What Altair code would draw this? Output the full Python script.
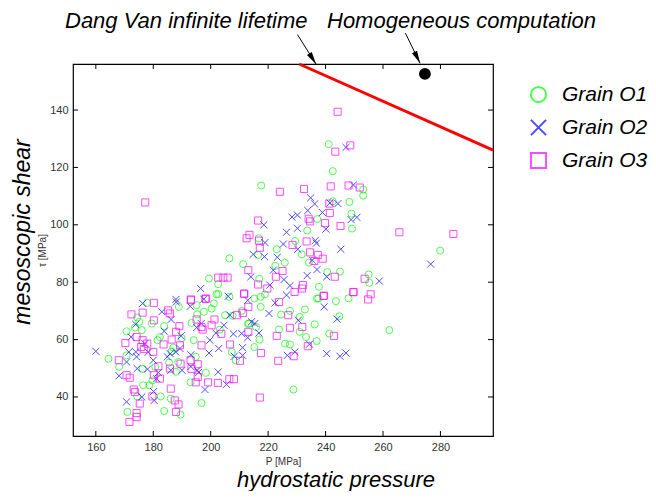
import math
import altair as alt
import pandas as pd

# ---------------- data ----------------
P_O1 = [202, 206.5, 215.2, 217.4, 218.9, 177.9, 188.9, 195.1, 217.4, 237.5, 243.6, 248, 232.8, 231, 224.5,
        227.6, 223.8, 225.9, 227.6, 231, 233.2, 236.2, 236.9, 241.3, 244.8, 228.8, 262.2, 215.2, 217, 215.8,
        213.3, 210.8, 207.6, 205, 203.2, 207.3, 208.7, 201.1, 198.3, 196.8, 194.8, 194.1, 193.3, 195.3, 193,
        197.6, 200.3, 164.4, 168.1, 170.7, 170.7, 171, 173.6, 174.4, 175.1, 174.4, 176, 176.3, 176.5, 178.6,
        179.7, 179.5, 180.7, 181.5, 182.3, 182.6, 183.8, 183.8, 186.4, 187, 187.9, 186.1, 189.5, 188.7,
        242.5, 217.6, 242.5, 248.3, 253.1, 253.1, 249, 249.2, 237.1, 233.6, 229.4, 231.7, 223, 216.7, 216.5,
        206.5, 211.3, 225.8, 222.5, 234.2, 240.6, 245, 255, 255.2, 279.9, 199.4, 202.6, 202.6, 216.9, 237.7,
        237, 241.1, 213, 189.9, 185.5]
T_O1 = [75.8, 74.9, 74.3, 74.9, 75.8, 72.8, 71.4, 72, 71.4, 74.3, 73.4, 74.4, 70.5, 67.9, 68.7,
        70, 63.5, 58.6, 58.3, 62.7, 60.9, 65.3, 59.5, 62.1, 68.1, 42.6, 63.3, 57.4, 60, 64.4,
        65.6, 70, 68.3, 68.5, 63.5, 55.7, 52.8, 72.6, 48.4, 37.9, 54, 59.8, 65.8, 68.8, 45.1,
        69.7, 70.8, 53.3, 50.5, 62.9, 54.5, 34.8, 64.2, 67.7, 66.2, 40.2, 63.3, 49.8, 44.1, 44.1,
        45.8, 65.6, 50.5, 59.8, 60.9, 40.2, 64.7, 35.1, 55.9, 57.2, 48.8, 39.4, 33.8, 52.2,
        118.7, 113.7, 108.2, 108, 112.3, 110.2, 103.9, 98.7, 102, 98, 94.4, 89.7, 91.5, 95.3, 89.5,
        88.3, 86.3, 86.8, 85.7, 86.8, 83.5, 83.7, 82.7, 79.8, 91, 81.3, 79.3, 75.9, 81.2, 78.4,
        74.3, 128.1, 65.5, 60.5, 52.0]

P_O2 = [160, 168.1, 170.7, 170.7, 171.5, 172.3, 173.9, 174.2, 174.4, 173.9, 176, 176.3, 177.1, 178, 178.2,
        180, 180.3, 180.1, 181.2, 181.8, 183, 183.8, 184.9, 185.9, 186.1, 186.2, 188, 187.8, 189.3, 189.7,
        190, 193.1, 193.1, 192.9, 195.3, 195.8, 195.1, 196.7, 198, 199.4, 199.7, 202.6, 202.8, 201.8, 204.6,
        205.5, 206.7, 206.1, 207.9, 208.2, 211.1, 211.1, 210.8, 212.9, 214.2, 212.9, 215.4, 216.8, 220.3,
        222.4, 226.4, 226.7, 229.3, 230.5, 234.4, 239.5, 240.4, 244, 245, 247.1,
        249.7, 234.8, 236.2, 244.3, 241.5, 238.9, 233.8, 230.2, 228.3, 218.5, 230.2, 226.4, 236.4, 236.8,
        240.1, 248.9, 250.9, 218.9, 225.3, 230.3, 214.8, 218.7, 223.2, 245.3, 235.4, 221.8, 225.5, 227.6,
        220.6, 233.6, 237, 240.4, 258.7, 276.6, 214, 196.5, 187.9, 197.6, 247.1]
T_O2 = [55.9, 47.4, 52.2, 38.3, 55.7, 60.9, 65.3, 54, 49.9, 55.7, 40, 72.6, 58.6, 49.7, 55.6,
        52.8, 38.8, 41.9, 46.4, 48.5, 69.7, 62.9, 54, 55.1, 49.3, 67, 73.1, 55.7, 56.9, 61.3,
        49.3, 54.7, 50.6, 71.6, 49.3, 48.6, 64.2, 65.6, 42.6, 55.3, 59.8, 48.7, 56.9, 62.3, 65,
        44.4, 68.5, 75.1, 62, 54.2, 57.2, 54.5, 62.1, 60.7, 66.2, 73.7, 65.6, 62.3, 69.1,
        72.8, 75.5, 54.5, 55.7, 66.7, 58.4, 71.4, 55.1, 67.1, 54.2, 55.3,
        113.9, 109.4, 107.3, 107.4, 107.6, 104.3, 105, 103.4, 102.7, 100, 98.8, 97.4, 94.5, 93.6,
        98.5, 101.8, 102.6, 93.8, 93.3, 91.5, 89.7, 88.9, 88.7, 91.5, 87.7, 84.2, 80.9, 78.8,
        79, 82.3, 84.4, 81.9, 80.4, 86.3, 81.9, 77.8, 74, 74.1, 127]

P_O3 = [168, 170.3, 170.7, 171.8, 172.4, 173.2, 173.6, 174.2, 174.2, 171.7, 174.2, 176.3, 175.8, 176.3, 176.7,
        177.9, 175.3, 180, 180.2, 180.2, 179.7, 180.2, 181.8, 182.3, 183.6, 185.2, 185.8, 186.1, 185.8, 186.4,
        187.5, 187.9, 188.8, 187.9, 189.1, 189.3, 189.5, 193.1, 193, 193.3, 195.1, 195.5, 195.5, 194.8, 196.8,
        197.2, 196.8, 198.3, 199.1, 200.3, 201.3, 202.5, 203.7, 206.7, 206.5, 208.1, 209.2, 210.2, 211.2,
        211.7, 213.1, 213.1, 217.5, 217.1, 223, 223.5, 223.8, 227, 227.6, 228.9, 231.9, 233.8, 239.4, 242.9,
        249.7, 254.8, 255.7,
        177.2, 224.1, 232.5, 241.8, 248, 251.9, 241.3, 241.5, 234.1, 234.6, 239.8, 245.2, 216.5, 213.5, 212.5,
        216.8, 217.1, 233.4, 228.5, 234.6, 237.3, 236.1, 239, 265.7, 284.5, 213.1, 216.5, 225, 222.7, 232.1,
        231.8, 229.2, 243.2, 253.6, 249.7, 239.3, 202.6, 204.4, 205.9, 193.1, 198.2, 219.7, 211.6,
        244.2, 243.4, 248.6]
T_O3 = [52.8, 58.8, 47.6, 46.7, 68.8, 42.6, 41.7, 34.4, 33, 31.3, 60.9, 59.8, 57.4, 69.4, 56.7,
        58.6, 37.7, 55.7, 72.8, 66.7, 40.2, 47.6, 50.7, 46.4, 58.3, 70.2, 69.1, 42.9, 49.9, 60,
        38.8, 62.7, 37.4, 34.8, 64.7, 58, 51.6, 73.7, 52.8, 49.8, 67, 51.4, 47, 45.1, 64.4,
        63.5, 58, 74.3, 45.1, 65, 67, 44.9, 62, 58.3, 46.2, 46.2, 68.5, 52.6, 69.3,
        76, 71.4, 62.7, 55.3, 39.8, 61.3, 52.6, 73.1, 68.5, 64.1, 54.2, 64.4, 57.7, 75.3, 61.3,
        76.6, 74, 75.8,
        107.8, 111.5, 112.5, 113.4, 113.7, 113, 107.4, 104.1, 102.1, 101.2, 100.6, 99.6, 101.5, 96.5, 95.3,
        94.5, 92, 94.2, 93, 90.4, 89.5, 87.4, 88.2, 97.4, 96.8, 84.2, 79.2, 83.9, 81.9, 79,
        77.8, 76.6, 81.9, 81.2, 76.5, 75.2, 81.6, 81.6, 81.6, 74, 74.2, 77.8, 76,
        139.4, 125.5, 127.7]

GRAINS = ["Grain O1", "Grain O2", "Grain O3"]
GRAIN_COLORS = ["#00ff00", "#0000ff", "#ff00ff"]

# Dang Van infinite-lifetime line (end points on the frame)
DV_P = [230.8, 298.3]
DV_TAU = [156.05, 126.0]
# homogeneous computation point
HOMO_P = [274.6]
HOMO_TAU = [152.6]

X_TICKS = [160, 180, 200, 220, 240, 260, 280]
Y_TICKS = [40, 60, 80, 100, 120, 140]
X_DOMAIN = [152.05, 298.3]
Y_DOMAIN = [26.4, 156.05]

# annotation arrows: start (near text) -> tip (on the frame)
ARROW_P0 = [230.2, 267.8]
ARROW_T0 = [166.3, 166.8]
ARROW_P1 = [236.7, 272.9]
ARROW_T1 = [156.0, 156.3]

W, H = 420, 372

# ---------------- build tables ----------------
rows = []
for g, Ps, Ts in zip(GRAINS, [P_O1, P_O2, P_O3], [T_O1, T_O2, T_O3]):
    for p, t in zip(Ps, Ts):
        rows.append({"P": p, "tau": t, "grain": g})
pts = pd.DataFrame(rows)

xs = alt.Scale(domain=X_DOMAIN, nice=False, zero=False)
ys = alt.Scale(domain=Y_DOMAIN, nice=False, zero=False)

X_CROSS = "M-1,-1L1,1M-1,1L1,-1"

legend = alt.Legend(title=None, orient="none", legendX=455, legendY=20,
                    symbolSize=230, symbolStrokeWidth=2, labelFontSize=21,
                    labelFontStyle="italic", labelFont="Liberation Sans",
                    labelColor="black", labelOffset=13, rowPadding=8, padding=0)

scatter = alt.Chart(pts).mark_point(filled=False, size=50, strokeWidth=1).encode(
    x=alt.X("P:Q", scale=xs, axis=alt.Axis(values=X_TICKS, title="P  [MPa]", grid=False,
                                           ticks=False, domain=False, labelPadding=5,
                                           titlePadding=4)),
    y=alt.Y("tau:Q", scale=ys, axis=alt.Axis(values=Y_TICKS, title="τ  [MPa]", grid=False,
                                             ticks=False, domain=False, labelPadding=5,
                                             titlePadding=2)),
    color=alt.Color("grain:N", scale=alt.Scale(domain=GRAINS, range=GRAIN_COLORS), legend=legend),
    shape=alt.Shape("grain:N", scale=alt.Scale(domain=GRAINS, range=["circle", X_CROSS, "square"]),
                    legend=legend),
)

dv = pd.DataFrame({"P": DV_P, "tau": DV_TAU})
dv_line = alt.Chart(dv).mark_line(color="#ff0000", strokeWidth=3).encode(
    x=alt.X("P:Q", scale=xs), y=alt.Y("tau:Q", scale=ys))

homo = pd.DataFrame({"P": HOMO_P, "tau": HOMO_TAU})
homo_pt = alt.Chart(homo).mark_point(filled=True, color="black", size=140, opacity=1).encode(
    x=alt.X("P:Q", scale=xs), y=alt.Y("tau:Q", scale=ys))

# tick marks pointing inward on all four sides
xt = pd.DataFrame({"v": X_TICKS})
yt = pd.DataFrame({"v": Y_TICKS})
tick_style = dict(color="black", strokeWidth=1)
xt_bot = alt.Chart(xt).mark_rule(**tick_style).encode(
    x=alt.X("v:Q", scale=xs), y=alt.value(H), y2=alt.value(H - 5))
xt_top = alt.Chart(xt).mark_rule(**tick_style).encode(
    x=alt.X("v:Q", scale=xs), y=alt.value(0), y2=alt.value(5))
yt_left = alt.Chart(yt).mark_rule(**tick_style).encode(
    y=alt.Y("v:Q", scale=ys), x=alt.value(0), x2=alt.value(5))
yt_right = alt.Chart(yt).mark_rule(**tick_style).encode(
    y=alt.Y("v:Q", scale=ys), x=alt.value(W), x2=alt.value(W - 5))

# annotation arrows
px_per_P = W / (X_DOMAIN[1] - X_DOMAIN[0])
px_per_T = H / (Y_DOMAIN[1] - Y_DOMAIN[0])
arr = pd.DataFrame({"P0": ARROW_P0, "T0": ARROW_T0, "P1": ARROW_P1, "T1": ARROW_T1})
arr["ang"] = [
    (math.degrees(math.atan2((p1 - p0) * px_per_P, (t1 - t0) * px_per_T)) + 360) % 360
    for p0, t0, p1, t1 in zip(ARROW_P0, ARROW_T0, ARROW_P1, ARROW_T1)
]
arrow_lines = alt.Chart(arr).mark_rule(color="black", strokeWidth=1, clip=False).encode(
    x=alt.X("P0:Q", scale=xs), y=alt.Y("T0:Q", scale=ys),
    x2="P1:Q", y2="T1:Q")
HEAD = "M0,0L0.45,2L-0.45,2Z"
arrow_heads = alt.Chart(arr).mark_point(shape=HEAD, filled=True, color="black", size=160,
                                        opacity=1, clip=False).encode(
    x=alt.X("P1:Q", scale=xs), y=alt.Y("T1:Q", scale=ys), angle=alt.Angle("ang:Q", scale=None))

# free-standing texts
txt = pd.DataFrame({
    "label": ["Dang Van infinite lifetime", "Homogeneous computation", "hydrostatic pressure"],
})
t_style = dict(font="Liberation Sans", fontStyle="italic", fontSize=22, color="black")
t1 = alt.Chart(txt.iloc[[0]]).mark_text(align="left", baseline="alphabetic", **t_style).encode(
    text="label:N", x=alt.value(-8), y=alt.value(-36))
t2 = alt.Chart(txt.iloc[[1]]).mark_text(align="left", baseline="alphabetic", **t_style).encode(
    text="label:N", x=alt.value(254), y=alt.value(-36))
t3 = alt.Chart(txt.iloc[[2]]).mark_text(align="center", baseline="alphabetic", **t_style).encode(
    text="label:N", x=alt.value(263), y=alt.value(423))
ylab = pd.DataFrame({"label": ["mesoscopic shear"]})
t4 = alt.Chart(ylab).mark_text(align="center", baseline="middle", angle=270,
                               font="Liberation Sans", fontStyle="italic", fontSize=23,
                               color="black").encode(
    text="label:N", x=alt.value(-50), y=alt.value(168))

chart = alt.layer(
    dv_line, scatter, homo_pt, xt_bot, xt_top, yt_left, yt_right,
    arrow_lines, arrow_heads, t1, t2, t3, t4
).resolve_scale(shape="shared", color="shared").properties(
    width=W, height=H,
    autosize=alt.AutoSizeParams(type="none"),
    padding={"left": 65, "top": 56, "right": 155, "bottom": 55},
).configure_view(
    stroke="black", strokeWidth=1.2
).configure_axis(
    labelFont="Liberation Sans", labelFontSize=11, labelColor="#333",
    titleFont="Liberation Sans", titleFontSize=10, titleFontWeight="normal", titleColor="#333",
)

chart.save("out.html", embed_options={"renderer": "svg", "actions": False})
